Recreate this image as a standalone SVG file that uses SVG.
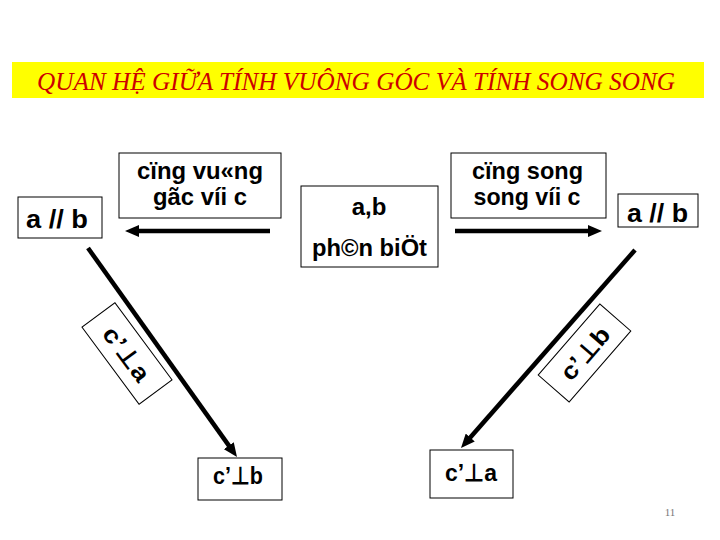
<svg xmlns="http://www.w3.org/2000/svg" width="720" height="540" viewBox="0 0 720 540">
<defs>
<style>
.box{fill:#fff;stroke:#000;stroke-width:1}
.t{font-family:"Liberation Sans",Arial,sans-serif;font-weight:bold;font-size:24px;fill:#000;text-anchor:middle}
.big{font-size:26px}
.con{stroke:#000;stroke-width:4.5;fill:none}
</style>
<marker id="ah" viewBox="0 0 14 12" refX="4" refY="6" markerWidth="14" markerHeight="12" markerUnits="userSpaceOnUse" orient="auto">
<path d="M0,0 L14,6 L0,12 z" fill="#000"/>
</marker>
</defs>
<rect width="720" height="540" fill="#fff"/>
<g id="title">
<rect x="12" y="62" width="692" height="36" fill="#ffff00"/>
<text x="37" y="90" font-family="Liberation Serif,Times New Roman,serif" font-style="italic" font-size="25" fill="#cc0000" textLength="638" lengthAdjust="spacingAndGlyphs">QUAN HỆ GIỮA TÍNH VUÔNG GÓC VÀ TÍNH SONG SONG</text>
</g>
<g id="connectors">
<line class="con" x1="270" y1="231" x2="135" y2="231" marker-end="url(#ah)"/>
<line class="con" x1="455" y1="231" x2="592" y2="231" marker-end="url(#ah)"/>
<line class="con" x1="88" y1="248" x2="231.2" y2="448.9" marker-end="url(#ah)"/>
<line class="con" x1="635" y1="250" x2="467.6" y2="440.5" marker-end="url(#ah)"/>
</g>
<g id="node-vuong-goc">
<rect class="box" x="119" y="153" width="162" height="65"/>
<text class="t" x="200" y="179" textLength="126" lengthAdjust="spacingAndGlyphs">cïng vu«ng</text>
<text class="t" x="200" y="205" textLength="94" lengthAdjust="spacingAndGlyphs">gãc víi c</text>
</g>
<g id="node-left-ab">
<rect class="box" x="18" y="197" width="84" height="41"/>
<text class="t big" x="57" y="228" textLength="62" lengthAdjust="spacingAndGlyphs">a // b</text>
</g>
<g id="node-phan-biet">
<rect class="box" x="301" y="186" width="137" height="81"/>
<text class="t" x="369" y="215" font-size="22">a,b</text>
<text class="t" x="369.5" y="256" textLength="115" lengthAdjust="spacingAndGlyphs">ph©n biÖt</text>
</g>
<g id="node-song-song">
<rect class="box" x="451" y="153" width="155" height="65"/>
<text class="t" x="527.5" y="179" textLength="111" lengthAdjust="spacingAndGlyphs">cïng song</text>
<text class="t" x="527" y="205" textLength="107" lengthAdjust="spacingAndGlyphs">song víi c</text>
</g>
<g id="node-right-ab">
<rect class="box" x="618" y="194" width="80" height="33"/>
<text class="t big" x="657.5" y="222" textLength="61" lengthAdjust="spacingAndGlyphs">a // b</text>
</g>
<g id="label-left" transform="translate(127,353.5) rotate(53.5)">
<rect class="box" x="-48" y="-20.5" width="96" height="41"/>
<text class="t" x="0" y="9" font-size="26" textLength="62" lengthAdjust="spacingAndGlyphs">c’⊥a</text>
</g>
<g id="label-right" transform="translate(584.5,353) rotate(-49)">
<rect class="box" x="-47" y="-20.5" width="94" height="41"/>
<text class="t" x="0" y="9" font-size="26" textLength="62" lengthAdjust="spacingAndGlyphs">c’⊥b</text>
</g>
<g id="node-cb">
<rect class="box" x="198" y="458" width="84" height="42"/>
<text class="t" x="238" y="484" textLength="50" lengthAdjust="spacingAndGlyphs">c’⊥b</text>
</g>
<g id="node-ca">
<rect class="box" x="430" y="450" width="83" height="48"/>
<text class="t" x="471" y="481" textLength="52" lengthAdjust="spacingAndGlyphs">c’⊥a</text>
</g>
<text x="670" y="516" font-family="Liberation Serif,serif" font-size="11" fill="#777" text-anchor="middle">11</text>
</svg>
